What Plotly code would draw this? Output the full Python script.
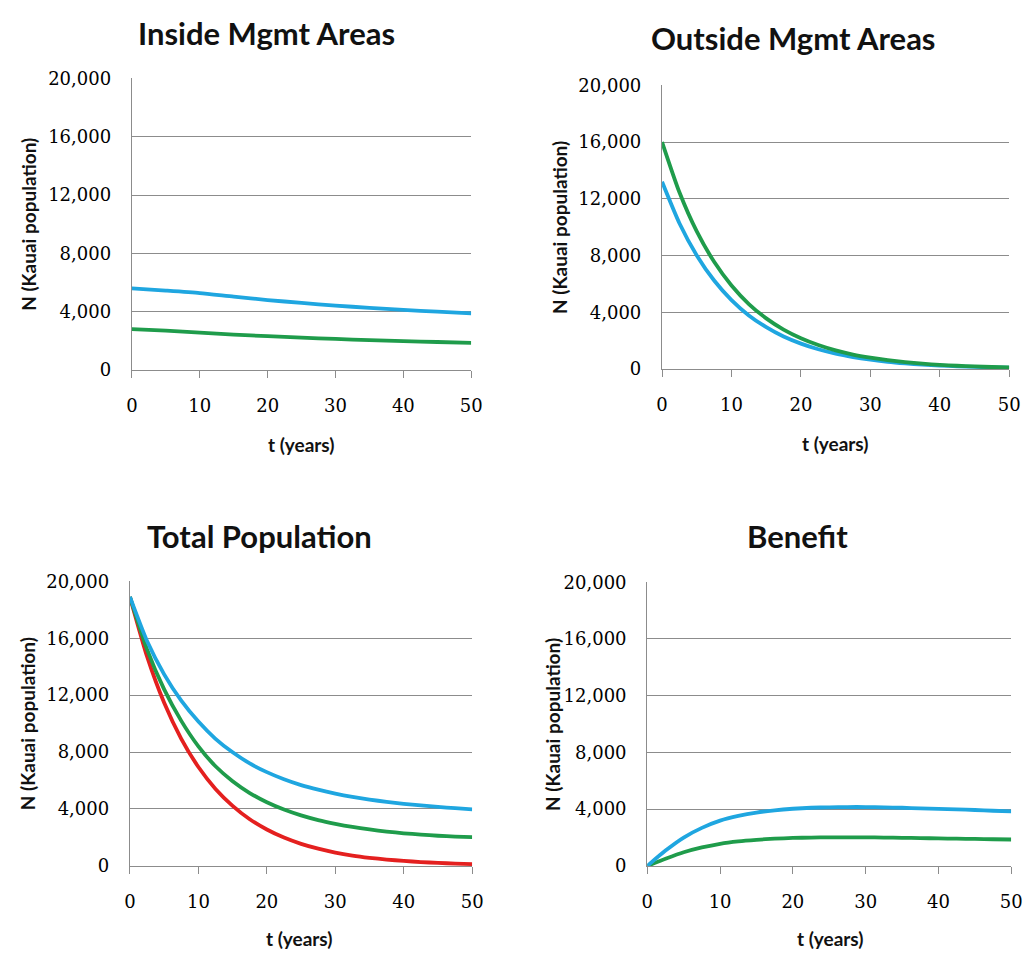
import plotly.graph_objects as go

# ---------------- data ----------------
t_inside = [0, 5, 10, 15, 20, 25, 30, 35, 40, 45, 50]
inside_blue = [5600, 5450, 5280, 5030, 4800, 4600, 4420, 4260, 4120, 4000, 3880]
inside_green = [2800, 2700, 2560, 2430, 2320, 2220, 2130, 2050, 1980, 1920, 1860]

t_fine = [0, 2.5, 5, 7.5, 10, 12.5, 15, 17.5, 20, 22.5, 25, 27.5, 30,
          32.5, 35, 37.5, 40, 42.5, 45, 47.5, 50]
outside_blue = [13200, 10280, 8010, 6240, 4860, 3780, 2950, 2290, 1790, 1390, 1080,
                845, 660, 510, 400, 310, 240, 190, 150, 115, 90]
outside_green = [16000, 12460, 9700, 7560, 5890, 4580, 3570, 2780, 2170, 1690, 1310,
                 1020, 800, 620, 480, 375, 290, 230, 180, 140, 110]

total_blue = [18900, 15800, 13460, 11610, 10140, 8930, 7980, 7200, 6590, 6090, 5680,
              5355, 5080, 4850, 4660, 4500, 4360, 4250, 4150, 4055, 3970]
total_green = [18900, 15210, 12400, 10190, 8400, 7000, 5950, 5120, 4470, 3960, 3550,
               3220, 2960, 2740, 2560, 2410, 2290, 2200, 2120, 2060, 2020]
total_red = [18900, 14720, 11460, 8930, 6950, 5410, 4220, 3280, 2560, 1990, 1550,
             1210, 940, 730, 570, 445, 350, 270, 210, 165, 130]

benefit_blue = [0, 1080, 2000, 2680, 3190, 3520, 3760, 3920, 4030, 4100, 4130,
                4150, 4150, 4130, 4100, 4060, 4020, 3980, 3940, 3890, 3850]
benefit_green = [0, 500, 960, 1300, 1560, 1730, 1840, 1920, 1970, 2000, 2010,
                 2010, 2010, 2000, 1980, 1960, 1940, 1920, 1900, 1880, 1860]

panel_titles = ["Inside Mgmt Areas", "Outside Mgmt Areas", "Total Population", "Benefit"]
y_ticks = [0, 4000, 8000, 12000, 16000, 20000]
y_ticklabels = ["0", "4,000", "8,000", "12,000", "16,000", "20,000"]
x_ticks = [0, 10, 20, 30, 40, 50]
x_title = "t (years)"
y_title = "N (Kauai population)"

BLUE = "#1FA6E0"
GREEN = "#1F9C4B"
RED = "#E4201F"

W, H = 1036, 961

# pixel boxes of the plot areas: (x0, x1, ytop, ybottom)
boxes = [(128, 473, 69, 367), (667, 1020, 76, 366), (126, 474, 583, 874), (652, 1022, 584, 874)]
title_pos = [(265, 22), (801, 28), (258, 537), (805, 537)]
xtitle_pos = [(300, 443), (843, 442), (298, 948), (838, 948)]
ytitle_x = [23, 562, 22, 555]

fig = go.Figure()

series = [
    [(t_inside, inside_blue, BLUE), (t_inside, inside_green, GREEN)],
    [(t_fine, outside_blue, BLUE), (t_fine, outside_green, GREEN)],
    [(t_fine, total_red, RED), (t_fine, total_green, GREEN), (t_fine, total_blue, BLUE)],
    [(t_fine, benefit_green, GREEN), (t_fine, benefit_blue, BLUE)],
]

tick_font = dict(family="DejaVu Serif", size=18, color="#000")
layout = dict(width=W, height=H, margin=dict(l=0, r=0, t=0, b=0),
              paper_bgcolor="white", plot_bgcolor="white", showlegend=False)
annotations = []
for i, (x0, x1, yt, yb) in enumerate(boxes):
    xa = "xaxis" if i == 0 else f"xaxis{i+1}"
    ya = "yaxis" if i == 0 else f"yaxis{i+1}"
    xref = "x" if i == 0 else f"x{i+1}"
    yref = "y" if i == 0 else f"y{i+1}"
    for tx, ty, col in series[i]:
        fig.add_trace(go.Scatter(x=tx, y=ty, mode="lines", xaxis=xref, yaxis=yref,
                                 line=dict(color=col, width=3.8, shape="spline", smoothing=0.6),
                                 hoverinfo="skip"))
    layout[xa] = dict(domain=[x0 / W, x1 / W], anchor=yref, range=[0, 50],
                      tickvals=x_ticks, ticks="outside", ticklen=7, tickcolor="#8c8c8c",
                      ticklabelstandoff=12,
                      showline=True, linecolor="#8c8c8c", linewidth=1.3,
                      showgrid=False, zeroline=False, tickfont=tick_font)
    layout[ya] = dict(domain=[1 - yb / H, 1 - yt / H], anchor=xref, range=[0, 20000],
                      tickvals=y_ticks, ticktext=y_ticklabels, ticks="",
                      ticklabelstandoff=16,
                      showline=True, linecolor="#8c8c8c", linewidth=1.3,
                      showgrid=True, gridcolor="#8c8c8c", gridwidth=1.3, zeroline=False,
                      tickfont=tick_font)
    tx_, ty_ = title_pos[i]
    annotations.append(dict(text=f"<b>{panel_titles[i]}</b>", x=tx_ / W, y=1 - ty_ / H,
                            xref="paper", yref="paper", showarrow=False,
                            xanchor="center", yanchor="middle",
                            font=dict(family="Lato", size=31, color="#111")))
    xx, xy = xtitle_pos[i]
    annotations.append(dict(text=f"<b>{x_title}</b>", x=xx / W, y=1 - xy / H,
                            xref="paper", yref="paper", showarrow=False,
                            xanchor="center", yanchor="middle",
                            font=dict(family="Lato", size=19, color="#111")))
    annotations.append(dict(text=f"<b>{y_title}</b>", x=ytitle_x[i] / W,
                            y=1 - ((yt + yb) / 2) / H,
                            xref="paper", yref="paper", showarrow=False, textangle=-90,
                            xanchor="center", yanchor="middle",
                            font=dict(family="Lato", size=19, color="#111")))

layout["annotations"] = annotations
fig.update_layout(**layout)
fig.write_html("out.html")
